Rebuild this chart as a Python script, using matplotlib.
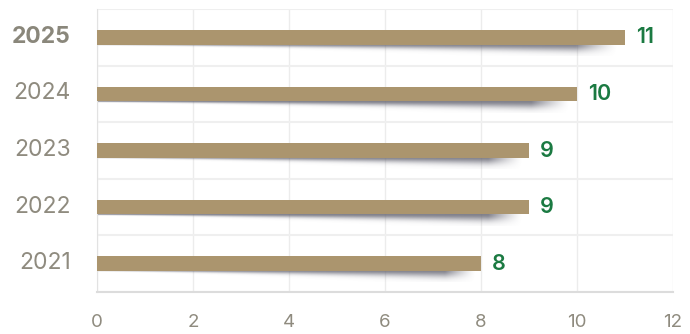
import numpy as np
import matplotlib
matplotlib.use("Agg")
import matplotlib.pyplot as plt
from matplotlib.transforms import ScaledTranslation

plt.rcParams['font.family'] = ['Inter', 'DejaVu Sans']

years = ["2021", "2022", "2023", "2024", "2025"]
values = [8, 9, 9, 10, 11]

bar_color = "#ab956e"
label_color = "#1b7a42"
tick_color = "#8f8b7f"
grid_color = "#ececec"

fig = plt.figure(figsize=(6.9, 3.34), dpi=100)
ax = fig.add_axes([0.1406, 0.1257, 0.8348, 0.8473])

bar_h = 0.26
pos = np.arange(len(years))

# soft drop shadow under each bar
for i, v in enumerate(values):
    nx, ny = 300, 40
    xs = np.linspace(0, 1, nx)
    ds = np.linspace(0, 1, ny)[:, None]
    thick = 0.1 + 0.9 * xs ** 1.3
    end_fade = np.clip((1 - xs) / 0.08, 0, 1) ** 1.3
    alpha = 0.85 * np.exp(-(ds / (thick + 1e-6)) ** 2 * 2.5) * end_fade
    img = np.zeros((ny, nx, 4))
    img[..., 0] = 0.42
    img[..., 1] = 0.42
    img[..., 2] = 0.47
    img[..., 3] = alpha
    top = i - bar_h / 2
    ax.imshow(img, extent=(0, v * 0.985, top - 0.2, top), origin="upper",
              aspect="auto", zorder=2, interpolation="bilinear")

ax.barh(pos, values, height=bar_h, color=bar_color, zorder=3)

for i, v in enumerate(values):
    ax.annotate(f"{v:.0f}", (v, i), xytext=(8, 0), textcoords="offset points",
                ha="left", va="center", fontsize=15.5, color=label_color,
                fontweight="semibold", zorder=4)

ax.set_xlim(0, 12)
ax.set_ylim(-0.5, 4.5)
ax.set_xticks(np.arange(0, 13, 2))
ax.set_yticks(pos)
ax.set_yticklabels(years)
ax.set_yticks(np.arange(-0.5, 4.6, 1), minor=True)

ax.tick_params(axis="x", length=0, pad=16, labelsize=13.5, labelcolor=tick_color)
ax.tick_params(axis="y", which="both", length=0, pad=19, labelsize=16.5, labelcolor=tick_color)
shift = ScaledTranslation(0, 3 / 100, fig.dpi_scale_trans)
for lbl in ax.get_yticklabels():
    lbl.set_transform(lbl.get_transform() + shift)
    if lbl.get_text() == "2025":
        lbl.set_fontweight("bold")
        lbl.set_color("#8a877b")

ax.grid(axis="x", color=grid_color, linewidth=1, zorder=0)
ax.grid(axis="y", which="minor", color="#efefef", linewidth=1.5, zorder=0)
ax.grid(axis="y", which="major", visible=False)

for side in ["top", "right"]:
    ax.spines[side].set_visible(False)
ax.spines["left"].set_color("#e2e2e2")
ax.spines["bottom"].set_color("#dcdcdc")
ax.spines["bottom"].set_linewidth(1.5)

fig.savefig("out.png", dpi=100)
